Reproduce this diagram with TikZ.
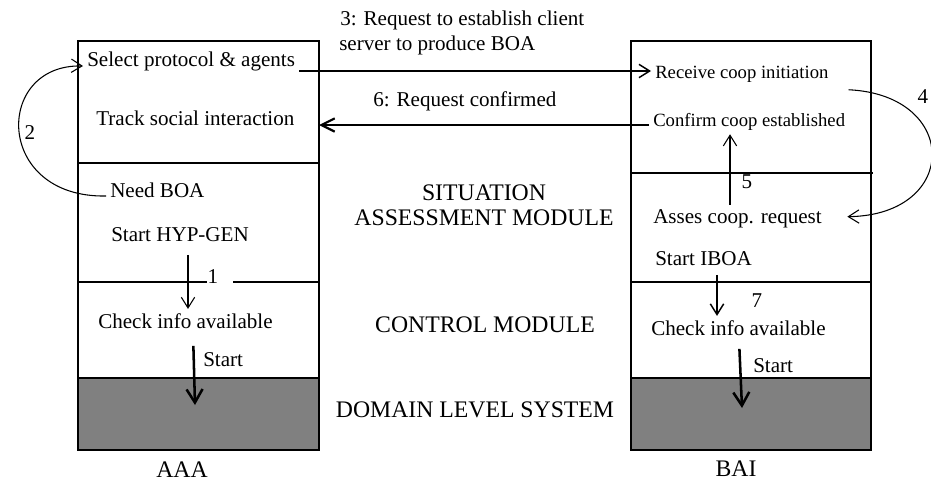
\documentclass[tikz,border=0pt]{standalone}
\usepackage{fontspec}
\setmainfont{Liberation Serif}
\usetikzlibrary{arrows.meta}
\begin{document}
\begin{tikzpicture}[x=0.75pt,y=-0.75pt,
  txt/.style={font=\fontsize{15.8}{18}\selectfont, inner sep=3pt, anchor=base west},
  smalltxt/.style={font=\fontsize{14}{16}\selectfont, inner sep=3pt, anchor=base west},
  numtxt/.style={font=\fontsize{15.8}{18}\selectfont, inner sep=1pt, anchor=base},
  midtxt/.style={font=\fontsize{17.8}{20}\selectfont, inner sep=1pt, anchor=base},
  frame/.style={draw, line width=1.5pt, inner sep=0pt, outer sep=0pt, anchor=north west},
  divider/.style={line width=1.5pt},
  shade/.style={fill=gray},
  thinarr/.style={line width=0.8pt, -{Straight Barb[length=8pt,width=10pt]}},
  medarr/.style={line width=1.1pt, -{Straight Barb[length=8pt,width=10pt]}},
  boldarr/.style={line width=1.6pt, -{Straight Barb[length=10pt,width=10pt]}},
  startarr/.style={line width=1.9pt, -{Straight Barb[length=10pt,width=12pt]}}
]
\useasboundingbox (0,0) rectangle (931,483);

% grey domain-level areas
\fill[shade] (78,378) rectangle (319,450);
\fill[shade] (631,378) rectangle (871,450);

% dividers
\draw[divider] (78,163) -- (319,163);
\draw[divider] (78,282) -- (207,282);
\draw[divider] (233,282) -- (319,282);
\draw[divider] (78,378) -- (319,378);
\draw[divider] (631,173) -- (873,173);
\draw[divider] (631,282) -- (871,282);
\draw[divider] (631,378) -- (871,378);

% frames
\node[frame, minimum width=180.75pt, minimum height=306.75pt] (boxA) at (78,41) {};
\node[frame, minimum width=180pt, minimum height=306.75pt] (boxB) at (631,41) {};

% left texts
\node[txt] (select) at (83,66) {Select protocol \& agents};
\node[txt] (track) at (92,125) {Track social interaction};
\node[txt] (needboa) at (106,197) {Need BOA};
\node[txt] (starthyp) at (107,241) {Start HYP-GEN};
\node[txt] (checkA) at (94,328) {Check info available};
\node[txt] (startA) at (199,366) {Start};
\node[midtxt] (aaa) at (182,477) {AAA};
\node[numtxt] (one) at (213,283) {1};
\node[numtxt] (two) at (30,139) {2};

% right texts
\node[smalltxt] (receive) at (651,78) {Receive coop initiation};
\node[smalltxt] (confirm) at (649,126) {Confirm coop established};
\node[txt] (asses) at (649,223) {Asses coop. request};
\node[txt] (startibo) at (651,265) {Start IBOA};
\node[txt] (checkB) at (647,335) {Check info available};
\node[txt] (startB) at (749,372) {Start};
\node[midtxt] (bai) at (736,476) {BAI};
\node[numtxt] (four) at (923,103) {4};
\node[numtxt] (five) at (747,188) {5};
\node[numtxt] (seven) at (757,307) {7};

% middle texts
\node[midtxt] (sit) at (484,200) {SITUATION};
\node[midtxt] (assess) at (484,225) {ASSESSMENT MODULE};
\node[midtxt] (control) at (485,332) {CONTROL MODULE};
\node[midtxt] (domain) at (475,417) {DOMAIN LEVEL SYSTEM};
\node[txt] (req3a) at (336,25) {3: Request to establish client};
\node[txt] (req3b) at (335,50) {server to produce BOA};
\node[txt] (req6) at (369,106) {6: Request confirmed};

% free ends in the grey areas
\coordinate (gA) at (195,405);
\coordinate (gB) at (742,408);

% connectors
\draw[medarr] (select.east |- 0,71) -- (receive.west |- 0,71);
\draw[boldarr] (confirm.west |- 0,125) -- (boxA.east |- 0,125);
\draw[thinarr] (needboa.west |- 0,196) .. controls (-6,198) and (-6,64) .. (select.west |- 0,66);
\draw[thinarr, shorten <=12pt, shorten >=16pt] (receive.east |- 0,89) .. controls (960,95) and (960,215) .. (asses.east |- 0,217);
\draw[thinarr] (asses.north -| 730,0) -- (confirm.south -| 730,0);
\draw[thinarr, shorten <=7pt] (starthyp.south -| 188,0) -- (checkA.north -| 188,0);
\draw[startarr, shorten <=10pt] (checkA.south -| 193,0) -- (gA);
\draw[medarr, shorten <=4pt] (startibo.south -| 717,0) -- (checkB.north -| 717,0);
\draw[startarr, shorten <=7pt] (checkB.south -| 739,0) -- (gB);
\end{tikzpicture}
\end{document}
